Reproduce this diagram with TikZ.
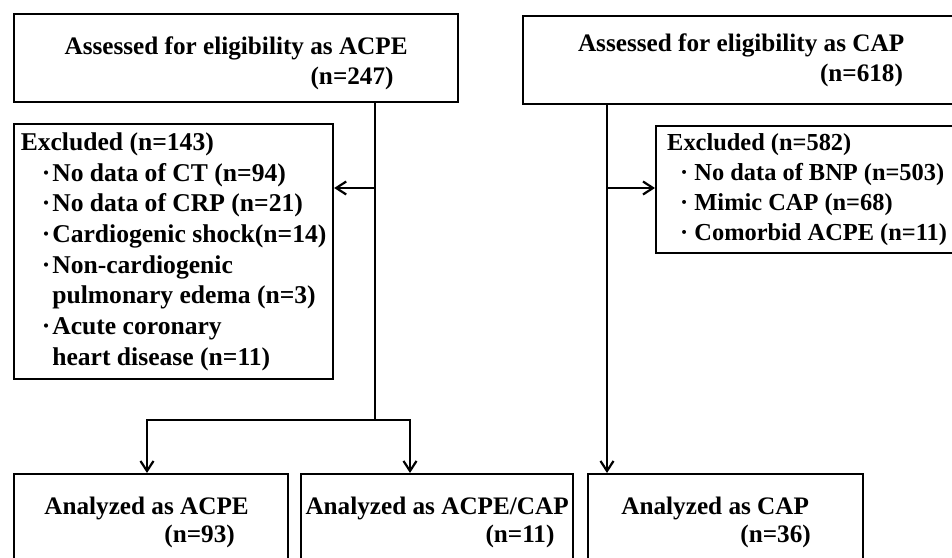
\documentclass[tikz,border=0pt]{standalone}
\usepackage{fontspec}
\setmainfont{Liberation Serif}
\usetikzlibrary{arrows.meta}

\newcommand{\dotcont}[1]{\hspace*{#1}\phantom{·\kern1pt}}

\begin{document}
\begin{tikzpicture}[x=0.5pt,y=-0.5pt,
    box/.style={draw,line width=1.1pt,inner sep=0pt,anchor=north west,align=left,
      font=\fontsize{12.6pt}{15pt}\selectfont\bfseries},
    listbox/.style={box,font=\fontsize{12.8pt}{15.35pt}\selectfont\bfseries},
    lowbox/.style={box,minimum height=48pt,font=\fontsize{12.6pt}{14pt}\selectfont\bfseries},
    flow/.style={line width=1.1pt,-{Straight Barb[length=5pt,width=6.5pt]}}]
    \useasboundingbox (0,0) rectangle (952,557);
    \clip (0,0) rectangle (952,557);

    \coordinate (split) at (375,420);
    \coordinate (exarrow) at (375,188);
    \coordinate (lbr) at (147,420);
    \coordinate (rbr) at (410,420);
    \coordinate (captrunk) at (607,103);

    % screening boxes
    \node[box,minimum width=222pt,minimum height=44pt] (acpe) at (13,13)
      {\rule{0pt}{14.5pt}Assessed for eligibility as ACPE\\ \hspace*{123pt}(n=247)};
    \node[box,minimum width=218pt,minimum height=44pt] (cap) at (522,15)
      {Assessed for eligibility as CAP\\ \hspace*{121pt}(n=618)};

    % exclusions
    \node[listbox,minimum width=159.5pt,minimum height=127.5pt] (exacpe) at (13,123)
      {Excluded (n=143)\\
       \hspace*{10.5pt}·\kern1pt No data of CT (n=94)\\
       \hspace*{10.5pt}·\kern1pt No data of CRP (n=21)\\
       \hspace*{10.5pt}·\kern1pt Cardiogenic shock(n=14)\\
       \hspace*{10.5pt}·\kern1pt Non-cardiogenic\\
       \dotcont{10.5pt}pulmonary edema (n=3)\\
       \hspace*{10.5pt}·\kern1pt Acute coronary\\
       \dotcont{10.5pt}heart disease (n=11)};
    \node[listbox,minimum width=151pt,minimum height=63.5pt,
      font=\fontsize{12.2pt}{15.15pt}\selectfont\bfseries] (excap) at (655,125)
      {Excluded (n=582)\\
       \hspace*{6.5pt}· No data of BNP (n=503)\hspace*{5pt}\\
       \hspace*{6.5pt}· Mimic CAP (n=68)\\
       \hspace*{6.5pt}· Comorbid ACPE (n=11)};

    % analysed groups
    \node[lowbox,minimum width=137pt] (ana1) at (13,473)
      {Analyzed as ACPE\hspace*{4.5pt}\\ \hspace*{60pt}(n=93)};
    \node[lowbox,minimum width=136pt] (ana2) at (300,473)
      {Analyzed as ACPE/CAP\\ \hspace*{90pt}(n=11)};
    \node[lowbox,minimum width=137.5pt] (ana3) at (587,473)
      {Analyzed as CAP\\ \hspace*{59.5pt}(n=36)\hspace*{9.5pt}};

    \draw[line width=1.1pt] (split |- acpe.south) -- (split);
    \draw[flow] (exarrow) -- (exarrow -| exacpe.east);
    \draw[flow] (split) -- (lbr) -- (lbr |- ana1.north);
    \draw[flow] (split) -- (rbr) -- (rbr |- ana2.north);
    \draw[flow] (captrunk |- cap.south) -- (captrunk |- ana3.north);
    \draw[flow] (captrunk |- exarrow) -- (exarrow -| excap.west);
\end{tikzpicture}
\end{document}
